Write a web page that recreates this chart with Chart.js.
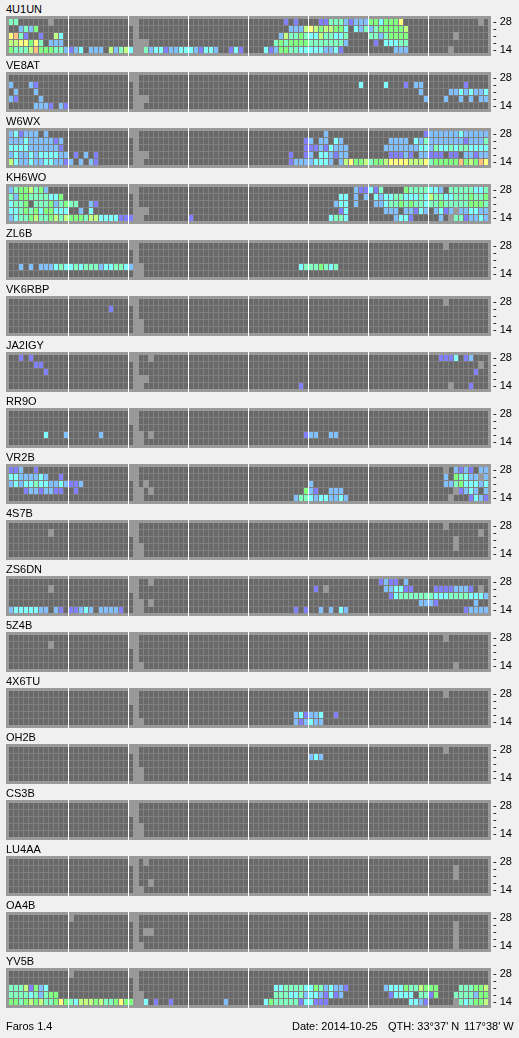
<!DOCTYPE html>
<html>
<head>
<meta charset="utf-8">
<title>Faros</title>
<script src="https://cdn.jsdelivr.net/npm/chart.js@4"></script>
<style>
  html, body { margin: 0; padding: 0; background: #f0f0f0; overflow: hidden; }
  #page { position: relative; width: 519px; height: 1038px; font: 11px "Liberation Sans", Arial, sans-serif; color: #000; }
  canvas { position: absolute; left: 0; }
  .txt { position: absolute; white-space: pre; line-height: 13px; }
</style>
</head>
<body>
<div id="page"></div>
<script>
// band labels on the right, bottom row first
const bandTicks = ["- 14", "-", "-", "-", "- 28"];
const beacons = ["4U1UN", "VE8AT", "W6WX", "KH6WO", "ZL6B", "VK6RBP", "JA2IGY", "RR9O", "VR2B",
                 "4S7B", "ZS6DN", "5Z4B", "4X6TU", "OH2B", "CS3B", "LU4AA", "OA4B", "YV5B"];

// signal level colours: . nothing, 1 weakest ... 8 strongest, x no data
const levelColors = { ".": "#696969", 1: "#8080ff", 2: "#80c0ff", 3: "#80ffff", 4: "#80ffc0",
                      5: "#80ff80", 6: "#c0ff80", 7: "#ffff80", 8: "#ffc080" };

// each beacon: five rows, 28 MHz first. {first column: levels from there on}
const b4U1UN = [
  {0:"44", 8:"x", 24:"xx", 55:"1.1", 62:"11444212225535557", 94:"x"},
  {2:"2425", 25:"x", 56:"222676566553.32424555556"},
  {0:"7841", 6:"1", 9:"63", 25:"x", 54:"26445433644334", 72:"44245555", 89:"x"},
  {0:"6677574", 8:"222", 25:"xxx", 53:"454555544444442", 73:"1", 75:"33344"},
  {0:"544468555442123.222.62463xx423312233321332..131", 51:"3125544333332231", 77:"222", 88:"x"}
];
const bVE8AT = [
  {24:"xx"},
  {0:"2", 4:"21", 25:"x", 70:"3", 75:"3", 79:"1", 81:"22", 91:"1"},
  {1:"2", 5:"2", 25:"x", 82:"2", 88:"22323223"},
  {0:"21", 6:"2", 25:"xxx", 83:"2", 87:"2", 90:"2", 92:"2", 94:"22"},
  {5:"2221", 10:"21", 25:"xx"}
];
const bW6WX = [
  {0:"231222.2", 24:"xx", 63:"2", 83:"1", 84:"222222322222"},
  {0:"22232222212", 25:"x", 59:"12.22", 65:"32", 76:"2222", 81:"324222222212224"},
  {0:"33332222221", 25:"x", 59:"111213222", 75:"222222233243343443333"},
  {0:"232232333322", 13:"1", 15:"2", 17:"1", 25:"xxx", 56:"1", 59:"12.332122", 76:"11121.22111.11.22122"},
  {0:"6322322332212.2.21", 25:"xx", 56:"122223332.267556455677776667455555856587"}
];
const bKH6WO = [
  {0:"24556452", 24:"xx", 69:"211314", 79:"54444332", 88:"44444334"},
  {0:"42554444335", 25:"x", 66:"33.2.2", 73:"32334433343644334445445"},
  {0:"3445.444524544", 16:"21", 25:"x", 65:"233", 69:"2", 73:"22344545443445444445554"},
  {0:"334545355333", 14:"2", 16:"3", 25:"xxx", 66:"13", 75:"222.22132.2312x223322"},
  {0:"2344564456465554663333111", 25:"xx", 36:"1", 64:"3443", 77:"2331", 86:"2", 88:"x", 89:"44", 91:"1", 92:"2232"}
];
const bZL6B = [
  {24:"xx", 87:"x"},
  {25:"x"},
  {25:"x"},
  {2:"2", 4:"2", 6:"222", 9:"3433434442334432", 25:"xx", 58:"34445434"},
  {25:"xx"}
];
const bVK6RBP = [
  {24:"xx", 87:"x"},
  {20:"1", 25:"x"},
  {25:"x"},
  {25:"xx"},
  {25:"xx"}
];
const bJA2IGY = [
  {2:"1", 4:"1", 24:"xx", 28:"x", 86:"1113", 91:"12"},
  {5:"11", 25:"x", 94:"x"},
  {7:"1", 25:"x", 93:"1"},
  {25:"xxx"},
  {25:"xx", 58:"1", 88:"x", 92:"1"}
];
const bRR9O = [
  {24:"xx"},
  {24:"xx"},
  {25:"x"},
  {7:"3", 11:"2", 18:"2", 25:"xx", 28:"x", 59:"122", 64:"22"},
  {25:"xx"}
];
const bVR2B = [
  {0:"112", 5:"1", 24:"xx", 87:"x", 89:"2121.22"},
  {0:"33222232", 10:"1", 24:"xx", 87:"2.54322x2"},
  {0:"232334332232112", 25:"x", 27:"x", 60:"2", 87:"224533323"},
  {3:"12212211", 13:"1", 25:"xx", 28:"x", 59:"521", 64:"222", 89:"x", 90:"1232.2"},
  {25:"xx", 57:"24432332232", 88:"x", 92:"1321"}
];
const b4S7B = [
  {24:"xx", 87:"x"},
  {8:"x", 24:"xx", 94:"x"},
  {25:"x", 89:"x"},
  {25:"xx", 89:"x"},
  {25:"xx"}
];
const bZS6DN = [
  {24:"xx", 28:"x", 74:"1211", 79:"2"},
  {8:"x", 24:"xx", 61:"1", 63:"x", 75:"22331", 80:"1", 85:"11112221", 94:"x"},
  {25:"x", 76:"13444444433344443332"},
  {25:"xx", 28:"x", 82:"2221", 93:"2"},
  {0:"23333322", 9:"21", 12:"11232", 18:"22221", 25:"xx", 57:"1", 59:"1", 62:"2", 64:"2", 66:"32", 91:"12222"}
];
const b5Z4B = [
  {24:"xx", 87:"x"},
  {8:"x", 24:"xx"},
  {25:"x"},
  {25:"x"},
  {25:"xx", 89:"x"}
];
const b4X6TU = [
  {24:"xx", 87:"x"},
  {24:"xx"},
  {25:"x"},
  {25:"x", 57:"231223", 65:"1"},
  {25:"xx", 57:"212322"}
];
const bOH2B = [
  {24:"xx", 87:"x"},
  {25:"x", 60:"232"},
  {25:"x"},
  {25:"xx"},
  {25:"xx"}
];
const bCS3B = [
  {24:"xx"},
  {24:"xx"},
  {25:"x"},
  {25:"xx"},
  {25:"xx"}
];
const bLU4AA = [
  {24:"xx", 27:"x"},
  {25:"x", 89:"x"},
  {25:"x", 89:"x"},
  {25:"x", 28:"x"},
  {25:"xx"}
];
const bOA4B = [
  {12:"x", 24:"xx"},
  {25:"x", 89:"x"},
  {25:"x", 27:"xx", 89:"x"},
  {25:"x", 89:"x"},
  {25:"xx", 89:"x"}
];
const bYV5B = [
  {12:"x", 24:"xx"},
  {25:"x"},
  {0:"44461523", 25:"x", 53:"334444335423221", 75:"23335446555", 90:"444556"},
  {0:"4444342455", 25:"xx", 53:"44433423321312", 76:"13333", 82:"4415", 89:"4444255"},
  {0:"5545656445754366656445755", 25:"xx", 27:"3", 29:"1", 32:"1", 43:"2", 51:"3544444133111", 80:"3321", 89:"x", 90:"434556"}
];

const allRows = [b4U1UN, bVE8AT, bW6WX, bKH6WO, bZL6B, bVK6RBP, bJA2IGY, bRR9O, bVR2B,
                 b4S7B, bZS6DN, b5Z4B, b4X6TU, bOH2B, bCS3B, bLU4AA, bOA4B, bYV5B];

const columns = Array.from({length: 96}, (_, i) => i);
const PANEL = "#999999", GAP = "#808080";

// expands {first column: levels} to one character per column
function expandRow(row) {
  const out = columns.map(() => ".");
  Object.keys(row).forEach(k => {
    [...row[k]].forEach((ch, i) => { if (+k + i < 96) out[+k + i] = ch; });
  });
  return out;
}

const panelPlugin = {
  id: "panel",
  beforeDraw(chart) {
    const a = chart.chartArea, c = chart.ctx, y = chart.scales.y;
    c.save();
    c.fillStyle = PANEL;
    c.fillRect(Math.floor(a.left) - 2, a.top, a.width + 5, a.height);
    c.fillStyle = GAP;
    c.fillRect(a.left + 0.5, y.getPixelForValue(5 - 1 / 7), a.width - 1, y.getPixelForValue(0) - y.getPixelForValue(5 - 1 / 7));
    c.restore();
  }
};

function makeChart(name, rows, idx) {
  const page = document.getElementById("page");
  const label = document.createElement("div");
  label.className = "txt";
  label.textContent = name;
  label.style.left = "6px";
  label.style.top = (3 + 56 * idx) + "px";
  page.appendChild(label);

  const canvas = document.createElement("canvas");
  canvas.width = 519;
  canvas.height = 64;
  canvas.style.top = (4 + 56 * idx) + "px";
  page.appendChild(canvas);

  const datasets = [];
  rows.forEach((row, i) => {
    const r = 4 - i;
    const levels = expandRow(row);
    datasets.push({
      label: name + " band " + r,
      data: levels.map(l => l === "x" ? null : [r, r + 6 / 7]),
      backgroundColor: levels.map(l => levelColors[l] || PANEL),
      barThickness: 4
    });
    datasets.push({
      label: name + " no data " + r,
      data: levels.map(l => l === "x" ? [r - 1 / 7, r + 1] : null),
      backgroundColor: PANEL,
      barThickness: 6
    });
  });

  return new Chart(canvas, {
    type: "bar",
    data: { labels: columns, datasets: datasets },
    plugins: [panelPlugin],
    options: {
      responsive: false,
      animation: false,
      events: [],
      grouped: false,
      inflateAmount: 0,
      borderWidth: 0,
      layout: { padding: { left: 8.5, right: 0, top: 12, bottom: 12 } },
      plugins: { legend: { display: false }, tooltip: { enabled: false } },
      scales: {
        x: {
          type: "category",
          offset: true,
          border: { display: false },
          ticks: { display: false, autoSkip: false },
          grid: {
            offset: true,
            z: 1,
            drawTicks: false,
            lineWidth: 1,
            color: ctx => (ctx.index > 0 && ctx.index % 12 === 0) ? "#ffffff" : "rgba(0,0,0,0)"
          }
        },
        y: {
          type: "linear",
          position: "right",
          min: -3 / 7,
          max: 37 / 7,
          border: { display: false },
          grid: { display: false, drawTicks: false },
          afterBuildTicks: s => { s.ticks = bandTicks.map((_, r) => ({ value: r + 3 / 7 })); },
          afterFit: s => { s.width = 30.5; },
          ticks: {
            padding: 4.5,
            color: "#000",
            autoSkip: false,
            font: { family: "Liberation Sans", size: 11 },
            callback: (v, i) => bandTicks[i]
          }
        }
      }
    }
  });
}

function addText(txt, left, top) {
  const d = document.createElement("div");
  d.className = "txt";
  d.textContent = txt;
  d.style.left = left + "px";
  d.style.top = top + "px";
  document.getElementById("page").appendChild(d);
}

window.onload = function () {
  beacons.forEach((name, i) => makeChart(name, allRows[i], i));
  addText("Faros 1.4", 6, 1020);
  addText("Date: 2014-10-25", 292, 1020);
  addText("QTH: 33\u00b037' N", 388, 1020);
  addText("117\u00b038' W", 464, 1020);
};
</script>
</body>
</html>
